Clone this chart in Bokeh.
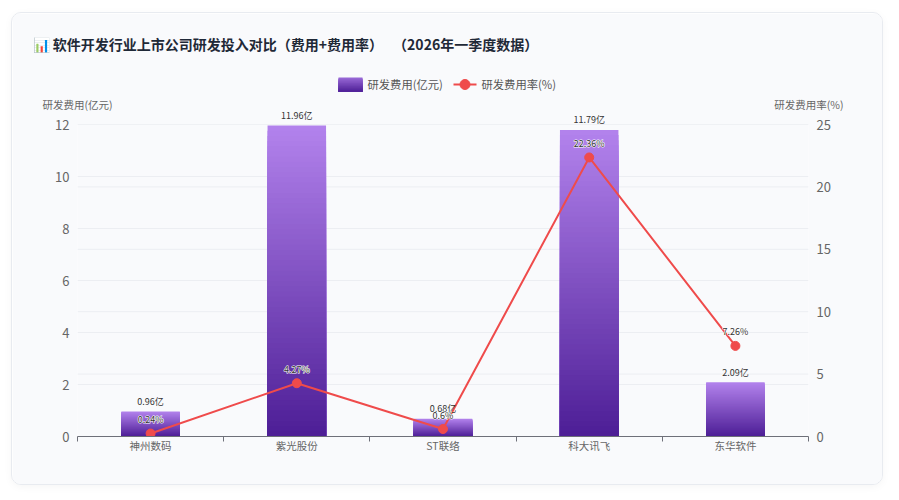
from bokeh.plotting import figure
from bokeh.models import LinearAxis, Range1d, FixedTicker
from bokeh.core.properties import value
from bokeh.embed import file_html
from bokeh.resources import INLINE

categories = ["神州数码", "紫光股份", "ST联络", "科大讯飞", "东华软件"]
costs = [0.96, 11.96, 0.68, 11.79, 2.09]
rates = [0.24, 4.27, 0.6, 22.36, 7.26]
left_ticks = [0, 2, 4, 6, 8, 10, 12]
right_ticks = [0, 5, 10, 15, 20, 25]
title_text = "📊 软件开发行业上市公司研发投入对比（费用+费用率）\u3000  （2026年一季度数据）"
left_title = "研发费用(亿元)"
right_title = "研发费用率(%)"
legend_cost = "研发费用(亿元)"
legend_rate = "研发费用率(%)"
FONT = "Noto Sans CJK SC"
TOP = (178, 130, 236)
BOTTOM = (76, 29, 149)
SLICES = 60
RED = "#ef4b4b"

FW, FH = 731, 312
n = len(categories)
centers = [i + 0.5 for i in range(n)]
p = figure(width=870, height=471, output_backend="svg", toolbar_location=None,
           x_range=Range1d(0, n), y_range=Range1d(0, 12),
           frame_width=FW, frame_height=FH,
           min_border_left=65, min_border_right=74, min_border_top=111, min_border_bottom=48,
           x_axis_type=None, y_axis_type=None, outline_line_color=None,
           background_fill_color="#f9fafc", border_fill_color="#f9fafc",
           margin=(12, 0, 0, 11))
p.styles = {"border-radius": "10px", "border": "1px solid #e8ebf0", "overflow": "hidden",
            "box-shadow": "0 2px 8px rgba(0,0,0,0.04)"}
p.extra_y_ranges = {"rate": Range1d(0, 25)}
p.grid.visible = False

def style_y(ax):
    ax.axis_line_color = None
    ax.major_tick_line_color = None
    ax.major_tick_out = 0
    ax.minor_tick_line_color = None
    ax.major_label_text_font = FONT
    ax.major_label_text_font_size = "13px"
    ax.major_label_text_color = "#666666"
    ax.major_label_standoff = 8

ly = LinearAxis(ticker=FixedTicker(ticks=left_ticks))
ry = LinearAxis(ticker=FixedTicker(ticks=right_ticks), y_range_name="rate")
style_y(ly); style_y(ry)
p.add_layout(ly, "left")
p.add_layout(ry, "right")

xa = LinearAxis(ticker=FixedTicker(ticks=centers, minor_ticks=list(range(n + 1))))
xa.major_label_overrides = {c: name for c, name in zip(centers, categories)}
xa.major_tick_in = 0; xa.major_tick_out = 0
xa.minor_tick_in = 0; xa.minor_tick_out = 5
xa.minor_tick_line_color = "#6e7079"
xa.axis_line_color = "#6e7079"
xa.axis_line_width = 1
xa.major_label_text_font = FONT
xa.major_label_text_font_size = "10.5px"
xa.major_label_text_color = "#666666"
xa.major_label_standoff = -4
p.add_layout(xa, "below")

p.segment(x0=[0] * len(left_ticks), x1=[n] * len(left_ticks), y0=left_ticks, y1=left_ticks,
          line_color="#eceef2", line_width=1, level="underlay")
p.segment(x0=[0] * len(right_ticks), x1=[n] * len(right_ticks), y0=right_ticks, y1=right_ticks,
          y_range_name="rate", line_color="#eceef2", line_width=1, level="underlay")

def shade(f):
    return "#%02x%02x%02x" % tuple(round(BOTTOM[k] + (TOP[k] - BOTTOM[k]) * f) for k in range(3))

# bars with a vertical gradient: nested quads, each slightly shorter and darker than the last
l, r, b, t, col = [], [], [], [], []
for c, v in zip(centers, costs):
    for i in range(SLICES):
        f = 1 - i / SLICES
        l.append(c - 0.2); r.append(c + 0.2)
        b.append(0); t.append(v * f)
        col.append(shade(f))
p.quad(left=l, right=r, bottom=b, top=t, fill_color=col, line_color=None)

p.line(centers, rates, y_range_name="rate", line_color=RED, line_width=2)
p.scatter(centers, rates, y_range_name="rate", size=9, fill_color=RED, line_color=RED)

p.text(centers, costs, text=[f"{v}亿" for v in costs], text_font=value(FONT), text_font_size="9px",
       text_color="#333333", text_align="center", text_baseline="middle", y_offset=-10, level="overlay")
rate_labels = [f"{v}%" for v in rates]
p.text(centers, rates, text=rate_labels, y_range_name="rate", text_font=value(FONT),
       text_font_size="9px", text_color="#ffffff", text_outline_color="#ffffff",
       text_align="center", text_baseline="middle", y_offset=-14, level="overlay")
p.text(centers, rates, text=rate_labels, y_range_name="rate", text_font=value(FONT),
       text_font_size="9px", text_color="#333333",
       text_align="center", text_baseline="middle", y_offset=-14, level="overlay")

# pixel offsets from the frame's top-left corner, turned into data positions
def dx(px):
    return px / FW * n
def dy(py):
    return 12 + py / FH * 12

def lab(px, py, text, size, color="#666666", align="left", style="normal"):
    p.text([dx(px)], [dy(py)], text=[text], text_font=value(FONT),
           text_font_size=size, text_color=color, text_align=align, text_baseline="middle",
           text_font_style=style, level="overlay")

lab(-45, 81, title_text, "14px", "#1f2937", style="bold")
lab(-35, 20, left_title, "10.5px")
lab(766, 20, right_title, "10.5px", align="right")

# legend
S = 20
p.quad(left=[dx(261)] * S, right=[dx(285)] * S, bottom=[dy(33)] * S,
       top=[dy(33 + 14 * (1 - i / S)) for i in range(S)],
       fill_color=[shade(0.75 * (1 - i / S)) for i in range(S)], line_color=None, level="overlay")
lab(290, 41, legend_cost, "11.3px", "#555555")
p.line([dx(376), dx(399)], [dy(40), dy(40)], line_color=RED, line_width=2, level="overlay")
p.ellipse([dx(387.5)], [dy(40)], width=10, height=10, width_units="screen", height_units="screen",
          fill_color=RED, line_color=RED, level="overlay")
lab(404, 41, legend_rate, "11.3px", "#555555")

open("out.html", "w").write(file_html(p, INLINE))
